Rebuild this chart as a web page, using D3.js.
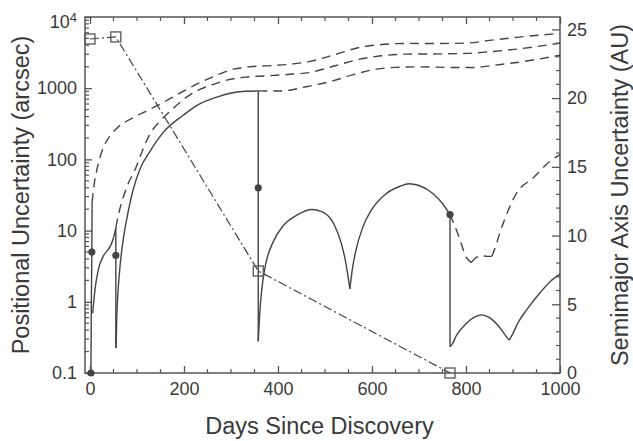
<!DOCTYPE html>
<html>
<head>
<meta charset="utf-8">
<script src="https://cdn.jsdelivr.net/npm/d3@7"></script>
<style>
  html, body { margin: 0; padding: 0; background: #fff; }
  svg { display: block; }
  text { font-family: "Liberation Sans", Arial, sans-serif; fill: #3a3a3a; }
</style>
</head>
<body>
<script>
// ---------------- DATA ----------------
const xTicks = [0, 200, 400, 600, 800, 1000];
const xMinorStep = 50;
const leftTicks = [0.1, 1, 10, 100, 1000, 10000];
const leftTickLabels = ["0.1", "1", "10", "100", "1000", "10^4"];
const rightTicks = [0, 5, 10, 15, 20, 25];

// solid prediction curves (positional uncertainty, arcsec) : [day, value]
const solid1 = [[2, 0.1], [3, 1.2], [4, 5], [4.5, 25]];
const solid2 = [[5.7, 0.69], [10.6, 1.47], [17.7, 2.83], [28, 4.35], [43, 6.0], [50, 7.9], [55, 11]];
const solid3 = [[55.5, 0.225], [57, 0.6], [60, 1.5], [64, 3.2], [67, 4.9], [72, 8.5], [78, 14.3], [92, 37.8], [106, 72], [128, 131], [156, 240], [199, 420], [227, 570], [270, 750], [298, 850], [330, 905], [358, 916]];
const solid4a = [[358, 0.28], [360, 0.5], [363, 1], [367, 1.8], [371, 2.7], [376, 3.9], [390, 7], [410, 11.5], [440, 16.5], [472, 19.8], [500, 17.5], [520, 12], [535, 6.5], [543, 3.9], [548, 2.5], [553, 1.52]];
const solid4b = [[553, 1.52], [558, 2.8], [565, 5], [580, 11], [600, 20], [630, 33], [660, 42], [678, 45.5], [700, 43], [730, 33], [750, 24], [766, 16.8]];
const solid5a = [[766, 0.234], [770, 0.25], [780, 0.34], [801, 0.5], [820, 0.62], [833, 0.656], [850, 0.6], [870, 0.45], [885, 0.33], [892, 0.29]];
const solid5b = [[892, 0.29], [900, 0.36], [910, 0.5], [929, 0.77], [957, 1.33], [980, 1.95], [1000, 2.45]];

// vertical drops at new observations: [day, top, bottom]
const drops = [[55, 11, 0.225], [358, 916, 0.28], [766, 16.8, 0.234]];

// dashed continuations (arcsec)
const dashed1 = [[4.5, 25], [10, 50], [14, 68], [21, 105], [30, 155], [43, 215], [60, 285], [92, 386], [120, 479], [142, 564], [191, 850], [234, 1200], [262, 1450], [305, 1850], [340, 2000], [376, 2060], [420, 2150], [468, 2377], [520, 2950], [574, 3741], [620, 4100], [674, 4256], [740, 4250], [801, 4300], [850, 4700], [908, 5180], [1000, 5900]];
const dashed2 = [[55, 11], [60, 16], [67, 24.5], [74, 34], [82, 47], [96, 72], [110, 125], [128, 230], [150, 350], [170, 470], [191, 630], [212, 800], [234, 960], [262, 1130], [291, 1300], [330, 1430], [376, 1490], [420, 1560], [468, 1664], [520, 2050], [574, 2558], [620, 2850], [674, 3013], [740, 3030], [801, 3080], [850, 3250], [908, 3540], [1000, 4300]];
const dashed3 = [[358, 916], [385, 912], [411, 916], [460, 1050], [517, 1268], [560, 1550], [610, 1854], [650, 1960], [695, 1995], [760, 1960], [815, 1950], [860, 2100], [908, 2300], [1000, 2900]];
const dashed4a = [[766, 16.8], [780, 10], [787, 7.5], [795, 5.2], [801, 4.2], [811, 3.57]];
const dashed4b = [[811, 3.57], [822, 4.2], [833, 4.45], [845, 4.35], [855, 4.35]];
const dashed4c = [[855, 4.35], [863, 6], [872, 9.3], [885, 16], [908, 34], [943, 55], [979, 94.6], [1000, 117]];

// observation dots (arcsec)
const obsDots = [[2, 0.1], [4, 5], [55, 4.5], [358, 40], [766, 16.8]];

// semimajor axis uncertainty (AU), squares with dash-dot line
const axisDays = [0, 55, 358, 766];
const axisAU = [24.3, 24.45, 7.42, 0];

// ---------------- CHART ----------------
const W = 633, H = 441;
const M = { left: 85, right: 560, top: 17, bottom: 373 };
const ink = "#444";

const svg = d3.select("body").append("svg").attr("width", W).attr("height", H);

const x = d3.scaleLinear().domain([-10.6, 1000]).range([M.left, M.right]);
const yL = d3.scaleLog().domain([0.1, 10000]).range([M.bottom, M.top]);
const yR = d3.scaleLinear().domain([0, 25.9]).range([M.bottom, M.top]);

// frame
svg.append("rect").attr("x", M.left).attr("y", M.top)
  .attr("width", M.right - M.left).attr("height", M.bottom - M.top)
  .attr("fill", "none").attr("stroke", "#555").attr("stroke-width", 1.5);

// bottom axis
const gx = svg.append("g").attr("transform", `translate(0,${M.bottom})`)
  .call(d3.axisBottom(x).tickValues(xTicks).tickSize(-7).tickPadding(9).tickSizeOuter(0).tickFormat(d3.format("d")));
// top ticks
const gxt = svg.append("g").attr("transform", `translate(0,${M.top})`)
  .call(d3.axisTop(x).tickValues(xTicks).tickSize(-7).tickFormat("").tickSizeOuter(0));
// left axis
const gl = svg.append("g").attr("transform", `translate(${M.left},0)`)
  .call(d3.axisLeft(yL).tickValues(leftTicks).tickSize(-7).tickPadding(8).tickSizeOuter(0)
    .tickFormat((d, i) => leftTickLabels[i]));
// right axis
const gr = svg.append("g").attr("transform", `translate(${M.right},0)`)
  .call(d3.axisRight(yR).tickValues(rightTicks).tickSize(-8).tickPadding(7).tickSizeOuter(0));

[gx, gxt, gl, gr].forEach(g => {
  g.select(".domain").remove();
  g.selectAll(".tick line").attr("stroke", "#555").attr("stroke-width", 1.3);
  g.selectAll(".tick text").attr("font-size", 18).attr("fill", "#3a3a3a")
    .style("font-family", '"Liberation Sans", Arial, sans-serif');
});

// superscript label 10^4
gl.selectAll(".tick text").each(function (d, i) {
  const lab = leftTickLabels[i];
  if (lab.includes("^")) {
    const [b, e] = lab.split("^");
    const t = d3.select(this).text("");
    t.append("tspan").text(b);
    t.append("tspan").attr("dy", "-0.45em").attr("font-size", 13).text(e);
    t.attr("dy", "0.6em");
  }
});

// minor ticks
const minor = svg.append("g").attr("stroke", "#555").attr("stroke-width", 1.2);
const xMinors = d3.range(0, 1001, xMinorStep).filter(v => !xTicks.includes(v));
xMinors.forEach(v => {
  minor.append("line").attr("x1", x(v)).attr("x2", x(v)).attr("y1", M.bottom).attr("y2", M.bottom - 4);
  minor.append("line").attr("x1", x(v)).attr("x2", x(v)).attr("y1", M.top).attr("y2", M.top + 4);
});
leftTicks.slice(0, -1).forEach(dec => {
  for (let k = 2; k <= 9; k++) {
    const v = dec * k;
    minor.append("line").attr("x1", M.left).attr("x2", M.left + 4).attr("y1", yL(v)).attr("y2", yL(v));
  }
});
d3.range(0, 26, 1).filter(v => !rightTicks.includes(v)).forEach(v => {
  minor.append("line").attr("x1", M.right).attr("x2", M.right - 4).attr("y1", yR(v)).attr("y2", yR(v));
});

// curves
const lineL = d3.line().x(d => x(d[0])).y(d => yL(d[1])).curve(d3.curveMonotoneX);
const lineLin = d3.line().x(d => x(d[0])).y(d => yL(d[1]));
const plot = svg.append("g").attr("fill", "none").attr("stroke", ink).attr("stroke-width", 1.4);

plot.append("path").attr("d", lineLin(solid1));
[solid2, solid3, solid4a, solid4b, solid5a, solid5b].forEach(s => plot.append("path").attr("d", lineL(s)));
drops.forEach(d => plot.append("line")
  .attr("x1", x(d[0])).attr("x2", x(d[0])).attr("y1", yL(d[1])).attr("y2", yL(d[2])));
[dashed1, dashed2, dashed3, dashed4a, dashed4b, dashed4c].forEach(s =>
  plot.append("path").attr("d", lineL(s)).attr("stroke-dasharray", "9,6"));

// semimajor axis dash-dot line + squares
const axisPts = axisDays.map((d, i) => [d, axisAU[i]]);
plot.append("path")
  .attr("d", d3.line().x(d => x(d[0])).y(d => yR(d[1]))(axisPts))
  .attr("stroke-dasharray", "9,3,2,3").attr("stroke-width", 1.2);
plot.selectAll("rect.sq").data(axisPts).join("rect").attr("class", "sq")
  .attr("x", d => x(d[0]) - 5).attr("y", d => yR(d[1]) - 5)
  .attr("width", 10).attr("height", 10).attr("fill", "none").attr("stroke", "#555").attr("stroke-width", 1.3);

// observation dots
svg.append("g").selectAll("circle").data(obsDots).join("circle")
  .attr("cx", d => x(d[0])).attr("cy", d => yL(d[1])).attr("r", 3.6).attr("fill", "#444");

// axis titles
svg.append("text").attr("x", (M.left + M.right) / 2 - 3).attr("y", 434)
  .attr("text-anchor", "middle").attr("font-size", 23.5).text("Days Since Discovery");
svg.append("text").attr("transform", `translate(29,${(M.top + M.bottom) / 2}) rotate(-90)`)
  .attr("text-anchor", "middle").attr("font-size", 23.5).text("Positional Uncertainty (arcsec)");
svg.append("text").attr("transform", `translate(628,${(M.top + M.bottom) / 2}) rotate(-90)`)
  .attr("text-anchor", "middle").attr("font-size", 23.5).text("Semimajor Axis Uncertainty (AU)");
</script>
</body>
</html>
